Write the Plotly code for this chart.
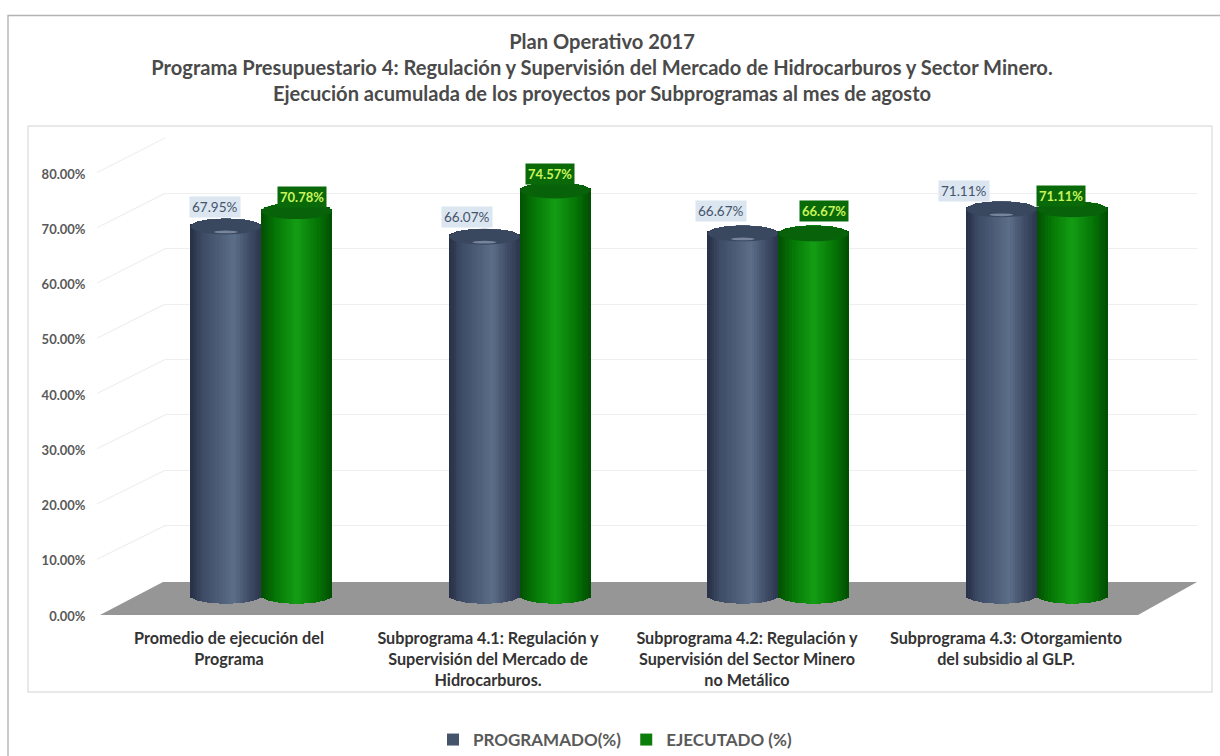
import math
import plotly.graph_objects as go

TITLE_LINES = ["Plan Operativo 2017",
               "Programa Presupuestario 4: Regulación y Supervisión del Mercado de Hidrocarburos y Sector Minero.",
               "Ejecución acumulada de los proyectos por Subprogramas al mes de agosto"]
CATEGORIES = ["Promedio de ejecución del<br>Programa",
              "Subprograma 4.1: Regulación y<br>Supervisión del Mercado de<br>Hidrocarburos.",
              "Subprograma 4.2: Regulación y<br>Supervisión del Sector Minero<br>no Metálico",
              "Subprograma 4.3: Otorgamiento<br>del subsidio al GLP."]
PROGRAMADO = [67.95, 66.07, 66.67, 71.11]
EJECUTADO = [70.78, 74.57, 66.67, 71.11]
Y_TICKS = [0, 10, 20, 30, 40, 50, 60, 70, 80]
Y_TICK_LABELS = ["0.00%", "10.00%", "20.00%", "30.00%", "40.00%", "50.00%", "60.00%", "70.00%", "80.00%"]

W, H = 1220, 756
FONT = "Lato"
TXT = "#4a4a4a"
xfr = lambda p: p / W
yfr = lambda p: 1 - p / H

# pixel geometry of the fake 3D box: front plane, bar plane, back wall
BACK_X = (165, 1197); BACK_Y = (581, 138)
BAR_X = (132, 1166);  BAR_Y0, BAR_K = 596, 5.4375
FRONT_X = (99.5, 1135.5); FRONT_Y = (616, 174)
BAR_RANGE = (-10, 100)


def smooth(c1, c2, t):
    return tuple(a + (b - a) * t for a, b in zip(c1, c2))


def shade(t, stops):
    for (p0, c0), (p1, c1) in zip(stops, stops[1:]):
        if t <= p1:
            c = smooth(c0, c1, (t - p0) / (p1 - p0))
            return "rgb(%d,%d,%d)" % c
    return "rgb(%d,%d,%d)" % stops[-1][1]


NAVY_STOPS = [(0, (38, 48, 70)), (.18, (62, 76, 102)), (.62, (92, 110, 136)), (.85, (62, 74, 100)), (1, (44, 54, 78))]
GREEN_STOPS = [(0, (3, 80, 3)), (.2, (6, 118, 6)), (.5, (20, 158, 20)), (.8, (6, 118, 6)), (1, (2, 78, 2))]

BAR_W = 0.272
SHIFT = 0.137
CAP = 1.45   # half-height of the cylinder ellipses, in % units
N = 30


def cylinder(values, sign, stops):
    xs, tops, bases, colors, widths = [], [], [], [], []
    for i, v in enumerate(values):
        for k in range(N):
            u = (k + .5) / N
            d = math.sqrt(max(0, 1 - (2 * u - 1) ** 2)) * CAP
            xs.append(i + sign * SHIFT - BAR_W / 2 + u * BAR_W)
            bases.append(-d)
            tops.append(v + d + 0.0)
            colors.append(shade(u, stops))
            widths.append(BAR_W / N * 1.25)
    return go.Bar(x=xs, y=[t - b for t, b in zip(tops, bases)], base=bases, width=widths,
                  marker=dict(color=colors, line_width=0), xaxis="x2", yaxis="y2",
                  showlegend=False, hoverinfo="skip")


fig = go.Figure()
# helpers that make the back wall and the front plane axes exist
fig.add_trace(go.Scatter(x=[None], y=[None], xaxis="x", yaxis="y", showlegend=False, hoverinfo="skip"))
fig.add_trace(go.Bar(name="PROGRAMADO(%)", x=[i - SHIFT for i in range(4)], y=PROGRAMADO, width=BAR_W,
                     marker=dict(color="#44546a", line_width=0), xaxis="x2", yaxis="y2"))
fig.add_trace(go.Bar(name="EJECUTADO (%)", x=[i + SHIFT for i in range(4)], y=EJECUTADO, width=BAR_W,
                     marker=dict(color="#0b7d0b", line_width=0), xaxis="x2", yaxis="y2"))
fig.add_trace(cylinder(PROGRAMADO, -1, NAVY_STOPS))
fig.add_trace(cylinder(EJECUTADO, 1, GREEN_STOPS))
fig.add_trace(go.Scatter(x=[None], y=[None], xaxis="x3", yaxis="y3", showlegend=False, hoverinfo="skip"))

shapes = [
    dict(type="rect", xref="paper", yref="paper", x0=xfr(8), x1=1.02, y0=-0.02, y1=yfr(15.5),
         line=dict(color="#b4b4b4", width=1.4), layer="below"),
    dict(type="rect", xref="paper", yref="paper", x0=xfr(28), x1=xfr(1212), y0=yfr(692), y1=yfr(126),
         line=dict(color="#e2e2e2", width=1.5), layer="below"),
    dict(type="path", xref="paper", yref="paper", layer="below", line_width=0, fillcolor="#969696",
         path="M %f %f L %f %f L %f %f L %f %f Z" % (xfr(163), yfr(582), xfr(1197), yfr(582),
                                                    xfr(1138), yfr(615), xfr(100), yfr(615))),
]
# left wall diagonals from the front ticks to the back wall
for t in Y_TICKS[1:]:
    yf = FRONT_Y[0] - 1.5 + (FRONT_Y[1] - FRONT_Y[0]) * t / 80
    yb = BACK_Y[0] + (BACK_Y[1] - BACK_Y[0]) * t / 80
    shapes.append(dict(type="line", xref="paper", yref="paper", layer="below",
                       x0=xfr(97), y0=yfr(yf), x1=xfr(BACK_X[0]), y1=yfr(yb),
                       line=dict(color="#efefef", width=1.2)))
# cylinder top caps
for vals, sign, col, glint in ((PROGRAMADO, -1, "#39475f", "#8794a8"), (EJECUTADO, 1, "#07620a", None)):
    for i, v in enumerate(vals):
        cx = i + sign * SHIFT
        shapes.append(dict(type="circle", xref="x2", yref="y2", x0=cx - BAR_W / 2, x1=cx + BAR_W / 2,
                           y0=v - CAP, y1=v + CAP, fillcolor=col, line_width=0))
        if glint:
            shapes.append(dict(type="circle", xref="x2", yref="y2", x0=cx - BAR_W * .17, x1=cx + BAR_W * .17,
                               y0=v - 1.25, y1=v - .75, fillcolor=glint, line_width=0, opacity=.8))

# label offsets from the bar top (pixels)
PROG_DX = [-11, -17, -22, -37]; PROG_DY = [19.5, 19.7, 22.5, 18]
EJEC_DX = [5, -5, 10, -11];     EJEC_DY = [14.6, 16.5, 22.5, 13]
annotations = []
for i, (p, e) in enumerate(zip(PROGRAMADO, EJECUTADO)):
    annotations.append(dict(x=i - SHIFT, y=p, xref="x2", yref="y2", text="%.2f%%" % p, showarrow=False,
                            xshift=PROG_DX[i], yshift=PROG_DY[i], bgcolor="#dce6f1", borderpad=2,
                            font=dict(family=FONT, size=13.5, color="#44546a")))
    annotations.append(dict(x=i + SHIFT, y=e, xref="x2", yref="y2", text="<b>%.2f%%</b>" % e, showarrow=False,
                            xshift=EJEC_DX[i], yshift=EJEC_DY[i], bgcolor="#0a6a0a", borderpad=2,
                            font=dict(family=FONT, size=13, color="#c8f55a")))

fig.update_layout(
    width=W, height=H, margin=dict(l=0, r=0, t=0, b=0, autoexpand=False), paper_bgcolor="white", plot_bgcolor="rgba(0,0,0,0)",
    barmode="overlay", bargap=0, font=dict(family=FONT, color=TXT),
    title=dict(text="<br>".join(TITLE_LINES),
               x=xfr(602), xanchor="center", y=yfr(49), yanchor="top",
               font=dict(family=FONT, size=20.1, color=TXT, weight="bold")),
    xaxis=dict(domain=[xfr(BACK_X[0]), xfr(BACK_X[1])], range=[0, 1], visible=False, anchor="y", fixedrange=True),
    yaxis=dict(domain=[yfr(BACK_Y[0]), yfr(BACK_Y[1])], range=[0, 80], anchor="x", tickvals=Y_TICKS,
               showgrid=True, gridcolor="#eeeeee", gridwidth=1.2, showticklabels=False, ticks="",
               zeroline=False, showline=False),
    xaxis2=dict(domain=[xfr(BAR_X[0]), xfr(BAR_X[1])], range=[-.5, 3.5], visible=False, anchor="y2"),
    yaxis2=dict(domain=[yfr(BAR_Y0 - BAR_K * BAR_RANGE[0]), yfr(BAR_Y0 - BAR_K * BAR_RANGE[1])],
                range=list(BAR_RANGE), visible=False, anchor="x2"),
    xaxis3=dict(domain=[xfr(FRONT_X[0]), xfr(FRONT_X[1])], range=[-.5, 3.5], anchor="y3",
                tickvals=[0, 1, 2, 3], ticktext=CATEGORIES,
                ticks="", showgrid=False, zeroline=False, showline=False, ticklabelstandoff=11, tickangle=0,
                tickfont=dict(family=FONT, size=16.2, color="#333333", weight="bold")),
    yaxis3=dict(domain=[yfr(FRONT_Y[0]), yfr(FRONT_Y[1])], range=[0, 80], anchor="x3", tickvals=Y_TICKS,
                ticktext=Y_TICK_LABELS, ticks="", showgrid=False, zeroline=False, showline=False,
                ticklabelstandoff=13, tickfont=dict(family=FONT, size=13, color="#595959", weight="bold")),
    legend=dict(orientation="h", x=xfr(433), xanchor="left", y=yfr(740), yanchor="middle",
                font=dict(family=FONT, size=17, color="#595959", weight="bold"),
                bgcolor="rgba(0,0,0,0)"),
    shapes=shapes, annotations=annotations,
)
fig.write_html("out.html", config=dict(displayModeBar=False),
               post_script="document.body.style.margin='0';document.body.style.overflow='hidden';")
